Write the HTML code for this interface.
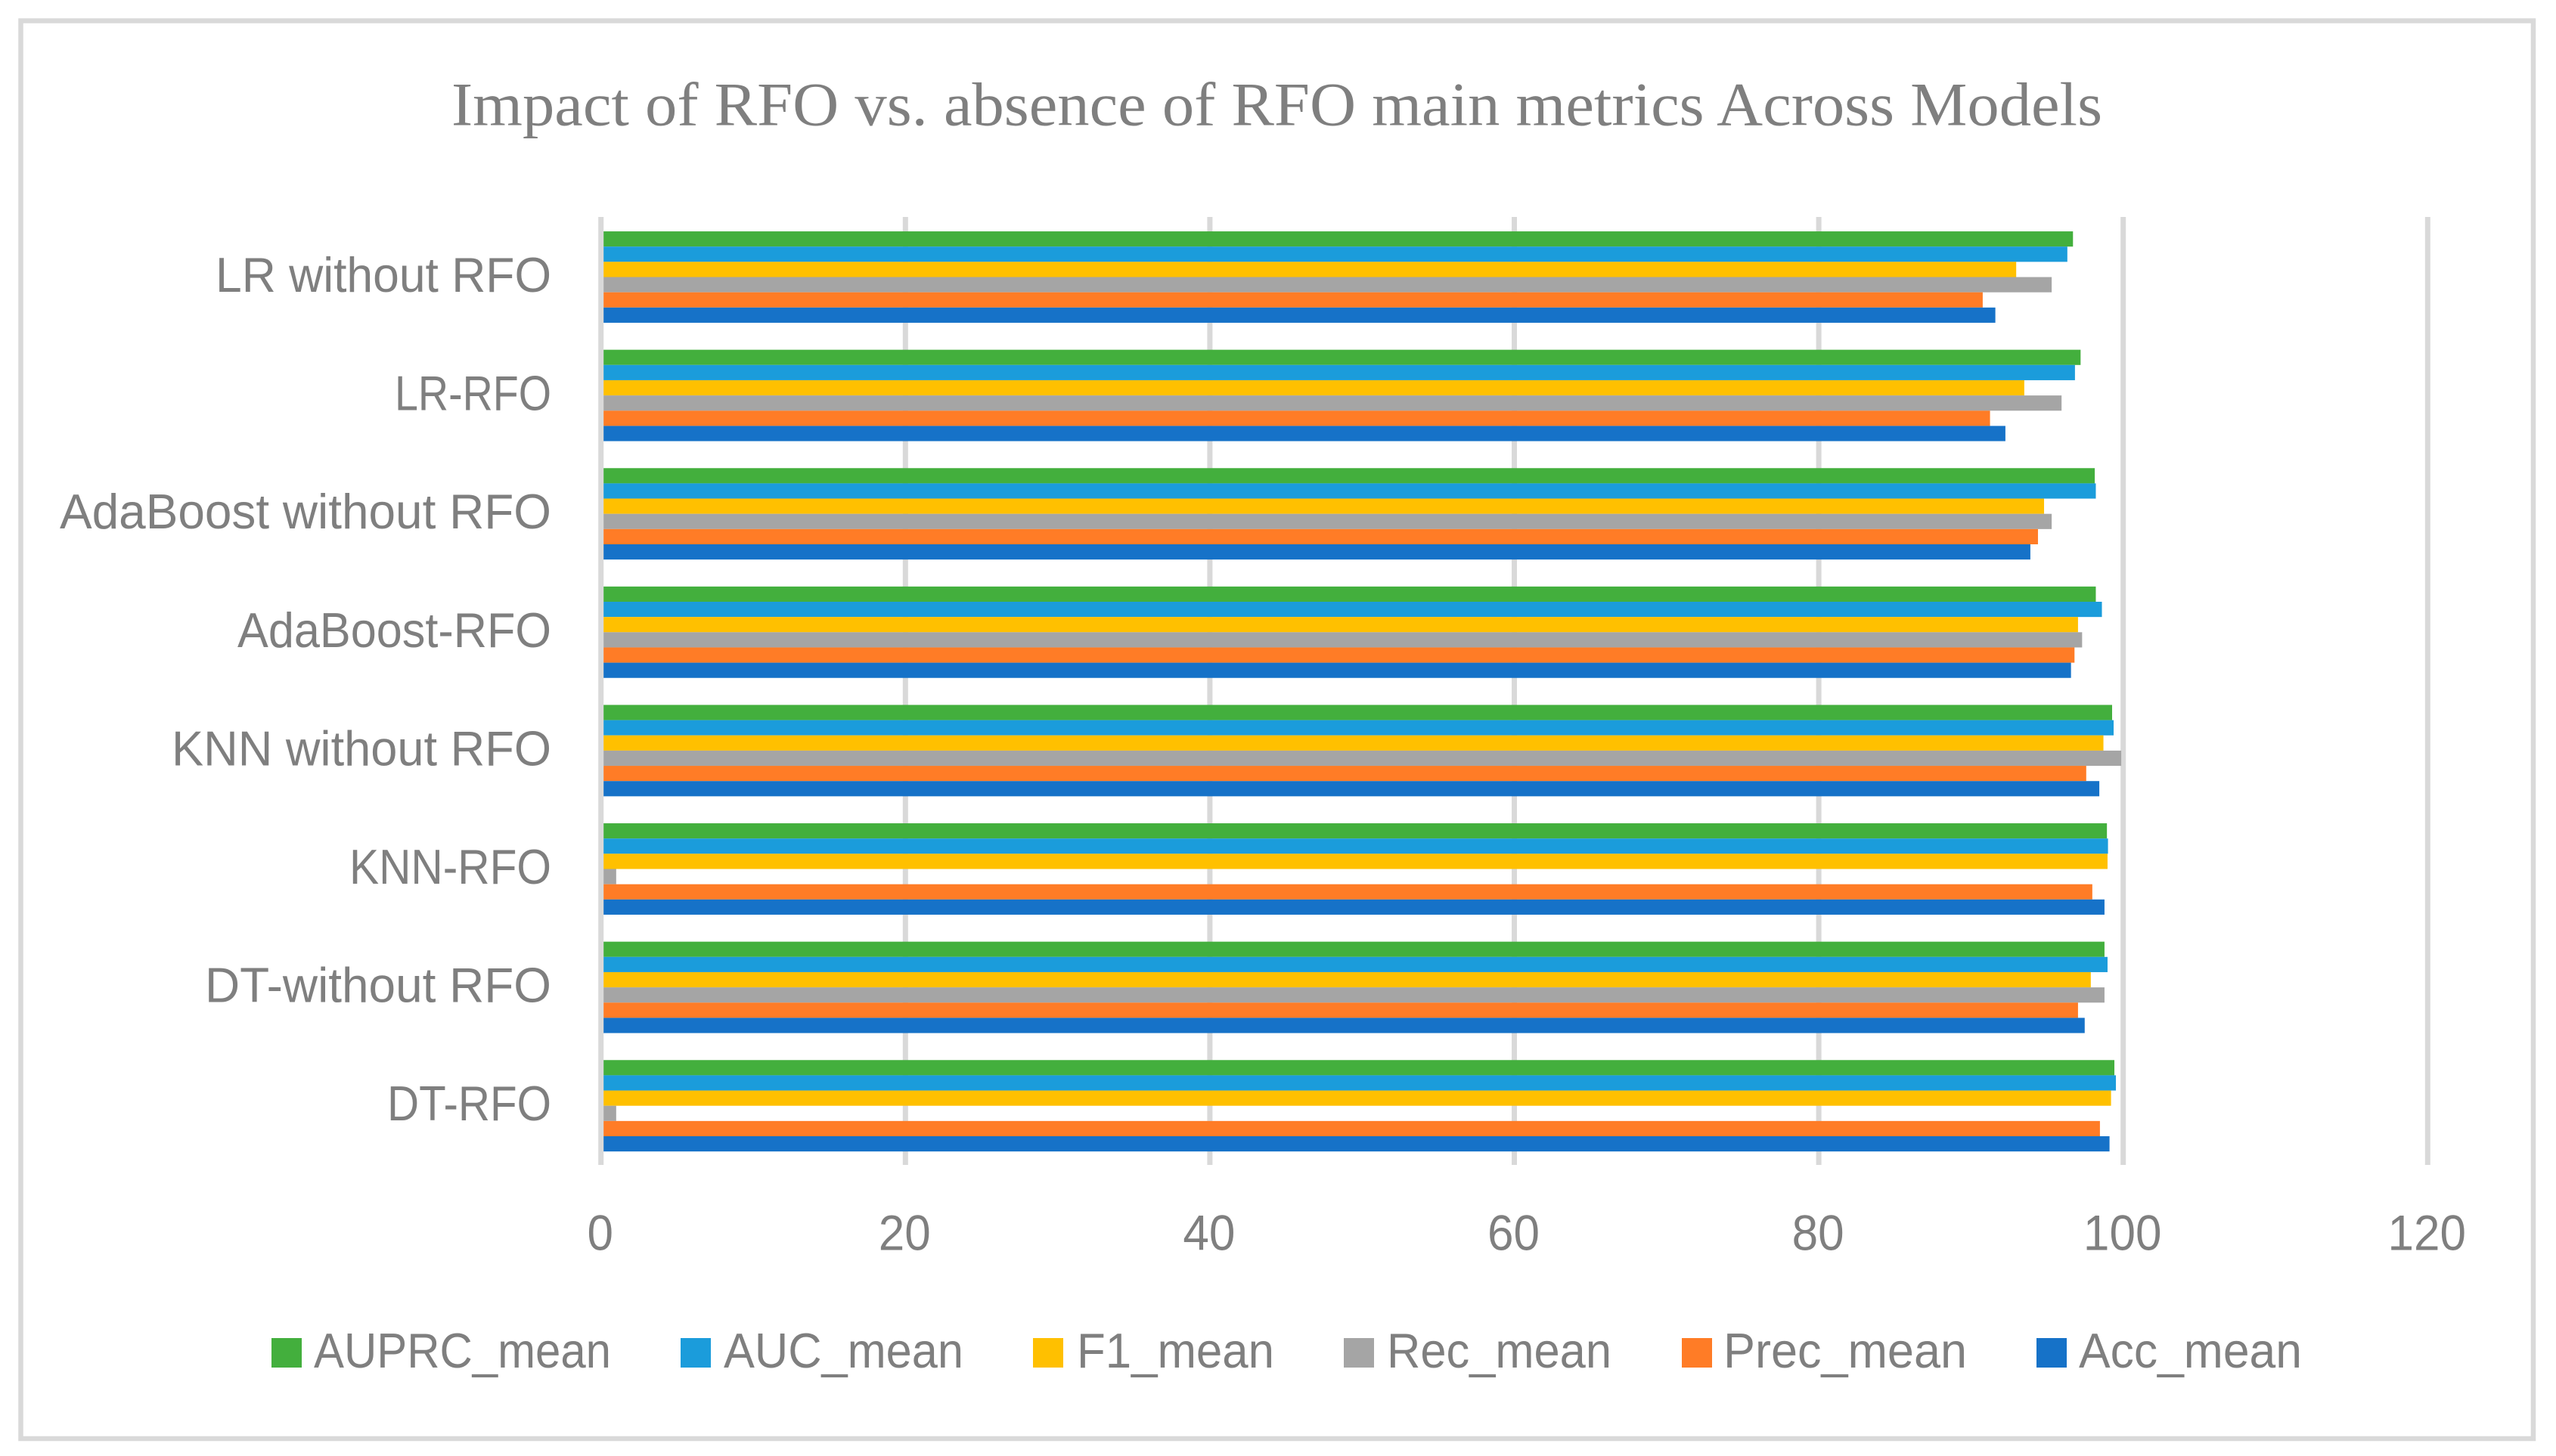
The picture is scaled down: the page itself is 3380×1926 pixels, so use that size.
<!DOCTYPE html>
<html lang="en">
<head>
<meta charset="utf-8">
<title>Impact of RFO vs. absence of RFO main metrics Across Models</title>
<style>
html,body{margin:0;padding:0;background:#fff;width:3380px;height:1926px;overflow:hidden}
svg{display:block}
.sans{font-family:"Liberation Sans",sans-serif;fill:#7f7f7f}
.serif{font-family:"Liberation Serif",serif;fill:#7f7f7f}
</style>
</head>
<body>
<svg id="chart" xmlns="http://www.w3.org/2000/svg" width="3380" height="1926" viewBox="0 0 3380 1926">
  <rect x="0" y="0" width="3380" height="1926" fill="#ffffff"/>
  <rect x="27.5" y="27.5" width="3322.5" height="1875.5" fill="#ffffff" stroke="#d9d9d9" stroke-width="6.5"/>
  <text class="serif" x="597" y="165.5" font-size="82" textLength="2183" lengthAdjust="spacingAndGlyphs">Impact of RFO vs. absence of RFO main metrics Across Models</text>
  <g id="grid"></g>
  <g id="bars"></g>
  <g id="axis"></g>
  <g class="sans" font-size="65">
    <text class="sans" x="285" y="386" textLength="444" lengthAdjust="spacingAndGlyphs">LR without RFO</text>
    <text class="sans" x="522" y="542.6" textLength="207" lengthAdjust="spacingAndGlyphs">LR-RFO</text>
    <text class="sans" x="79" y="699.2" textLength="650" lengthAdjust="spacingAndGlyphs">AdaBoost without RFO</text>
    <text class="sans" x="314" y="855.8" textLength="415" lengthAdjust="spacingAndGlyphs">AdaBoost-RFO</text>
    <text class="sans" x="227" y="1012.4" textLength="502" lengthAdjust="spacingAndGlyphs">KNN without RFO</text>
    <text class="sans" x="462" y="1169" textLength="267" lengthAdjust="spacingAndGlyphs">KNN-RFO</text>
    <text class="sans" x="271" y="1325.6" textLength="458" lengthAdjust="spacingAndGlyphs">DT-without RFO</text>
    <text class="sans" x="512" y="1482" textLength="217" lengthAdjust="spacingAndGlyphs">DT-RFO</text>
  </g>
  <g font-size="65">
    <g>
      <rect x="359" y="1770" width="40" height="39" fill="#43af3d"/>
      <text class="sans" x="415" y="1809" textLength="393" lengthAdjust="spacingAndGlyphs">AUPRC_mean</text>
    </g>
    <g>
      <rect x="900" y="1770" width="40" height="39" fill="#1b9cdb"/>
      <text class="sans" x="957" y="1809" textLength="317" lengthAdjust="spacingAndGlyphs">AUC_mean</text>
    </g>
    <g>
      <rect x="1366" y="1770" width="40" height="39" fill="#ffc000"/>
      <text class="sans" x="1424" y="1809" textLength="261" lengthAdjust="spacingAndGlyphs">F1_mean</text>
    </g>
    <g>
      <rect x="1777" y="1770" width="40" height="39" fill="#a5a5a5"/>
      <text class="sans" x="1834" y="1809" textLength="297" lengthAdjust="spacingAndGlyphs">Rec_mean</text>
    </g>
    <g>
      <rect x="2224" y="1770" width="40" height="39" fill="#ff7c26"/>
      <text class="sans" x="2279" y="1809" textLength="322" lengthAdjust="spacingAndGlyphs">Prec_mean</text>
    </g>
    <g>
      <rect x="2693" y="1770" width="40" height="39" fill="#1672c8"/>
      <text class="sans" x="2749" y="1809" textLength="295" lengthAdjust="spacingAndGlyphs">Acc_mean</text>
    </g>
  </g>
</svg>
<script>
const categories = ["LR without RFO","LR-RFO","AdaBoost without RFO","AdaBoost-RFO","KNN without RFO","KNN-RFO","DT-without RFO","DT-RFO"];
const ticks = [0,20,40,60,80,100,120];
const seriesNames = ["AUPRC_mean","AUC_mean","F1_mean","Rec_mean","Prec_mean","Acc_mean"];
const seriesColors = ["#43af3d","#1b9cdb","#ffc000","#a5a5a5","#ff7c26","#1672c8"];
const auprcMean = [96.7,97.2,98.13,98.2,99.27,98.93,98.77,99.42];
const aucMean = [96.33,96.83,98.2,98.6,99.37,99.0,98.97,99.52];
const f1Mean = [92.97,93.5,94.8,97.03,98.7,98.97,97.87,99.2];
const recMean = [95.3,95.95,95.3,97.3,99.87,1,98.77,1];
const precMean = [90.77,91.25,94.4,96.8,97.57,97.97,97.03,98.47];
const accMean = [91.6,92.26,93.9,96.57,98.43,98.77,97.47,99.1];
const seriesValues = [auprcMean,aucMean,f1Mean,recMean,precMean,accMean];

const NS = "http://www.w3.org/2000/svg";
const plotTop = 287, plotBottom = 1541;
const x0 = 794.7, pxPerUnit = 20.13;
const barH = 20.15, groupPitch = 156.6, firstCenter = 366.5;
const tickScale = 0.94;
function xScale(v){ return x0 + v * pxPerUnit; }
function groupTop(i){ return firstCenter + groupPitch * i - 3 * barH; }
function mk(tag, attrs){
  const el = document.createElementNS(NS, tag);
  for (const k in attrs) el.setAttribute(k, attrs[k]);
  return el;
}
const gridG = document.getElementById("grid");
const barsG = document.getElementById("bars");
const axisG = document.getElementById("axis");

ticks.forEach(function(t){
  const line = mk("rect", {x: xScale(t) - 3.5, y: plotTop, width: 7, height: plotBottom - plotTop, fill: "#d9d9d9"});
  
  
  (t === 0 ? axisG : gridG).appendChild(line);
  const label = mk("text", {x: (xScale(t) - 1) / tickScale, y: 1653.5, "font-size": 66, "text-anchor": "middle", "class": "sans", transform: "scale(" + tickScale + ",1)"});
  
  
  label.textContent = String(t);
  axisG.appendChild(label);
});

categories.forEach(function(cat, i){
  seriesValues.forEach(function(vals, s){
    const bar = mk("rect", {x: xScale(0), y: groupTop(i) + s * barH, width: xScale(vals[i]) - xScale(0), height: barH, fill: seriesColors[s]});
    
    
    barsG.appendChild(bar);
  });
});
</script>
</body>
</html>
